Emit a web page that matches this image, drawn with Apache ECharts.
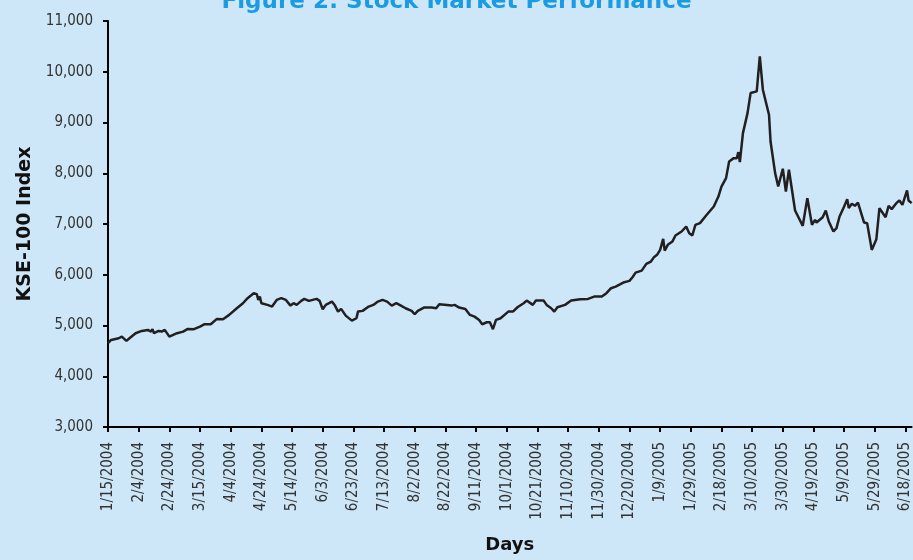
<!DOCTYPE html>
<html>
<head>
<meta charset="utf-8">
<title>Figure 2: Stock Market Performance</title>
<script src="https://cdn.jsdelivr.net/npm/echarts@6/dist/echarts.min.js"></script>
<style>
  html, body { margin: 0; padding: 0; background: #cde7f9; }
  #chart { width: 913px; height: 560px; }
</style>
</head>
<body>
<div id="chart"></div>
<script>
// days since 1/15/2004
var days = [0, 2, 7, 9, 12, 14, 18, 22, 26, 28, 29, 30, 33, 35, 37, 38, 40, 45, 49, 52,
  56, 60, 63, 67, 71, 75, 79, 84, 88, 91, 95, 97, 98, 99, 100, 104, 107, 110, 113, 116,
  119, 121, 123, 126, 128, 131, 136, 138, 140, 142, 146, 148, 150, 152, 155, 159, 162, 163, 166, 170,
  173, 176, 179, 182, 185, 188, 191, 194, 198, 200, 202, 206, 211, 214, 216, 221, 224, 226, 229, 233,
  236, 239, 242, 244, 247, 249, 251, 253, 256, 261, 264, 267, 271, 273, 277, 279, 284, 286, 289, 291,
  293, 298, 302, 308, 313, 317, 322, 325, 328, 331, 336, 340, 342, 344, 348, 351, 354, 356, 358, 360,
  362, 363, 365, 368, 370, 374, 377, 379, 381, 383, 386, 390, 395, 398, 400, 403, 405, 408, 410, 411,
  412, 414, 417, 419, 423, 425, 427, 431, 432, 435, 437, 440, 442, 444, 448, 453, 456, 459, 461, 462,
  466, 468, 470, 473, 475, 477, 480, 482, 483, 485, 487, 489, 490, 493, 495, 498, 501, 503, 507, 509,
  511, 514, 516, 518, 521, 522, 524];

var kse = [4650, 4716, 4749, 4780, 4696, 4749, 4848, 4893, 4913, 4880, 4927, 4848, 4893, 4880, 4913, 4880, 4780, 4848, 4880, 4933,
  4927, 4978, 5025, 5025, 5130, 5124, 5209, 5340, 5439, 5538, 5637, 5617, 5504, 5570, 5439, 5406, 5373, 5504, 5538, 5504,
  5392, 5439, 5406, 5485, 5524, 5485, 5524, 5485, 5321, 5406, 5471, 5392, 5274, 5327, 5195, 5096, 5143, 5274, 5288, 5373,
  5406, 5471, 5504, 5471, 5392, 5439, 5392, 5340, 5288, 5222, 5288, 5353, 5353, 5340, 5419, 5406, 5392, 5406, 5353, 5327,
  5209, 5175, 5110, 5025, 5064, 5064, 4927, 5110, 5143, 5274, 5274, 5360, 5439, 5491, 5406, 5491, 5491, 5406, 5340, 5274,
  5360, 5406, 5491, 5518, 5524, 5570, 5570, 5637, 5735, 5767, 5846, 5879, 5952, 6043, 6082, 6214, 6260, 6347, 6392, 6490,
  6707, 6477, 6589, 6654, 6773, 6852, 6950, 6819, 6773, 6983, 7017, 7167, 7344, 7541, 7738, 7904, 8232, 8298, 8298, 8416,
  8219, 8791, 9185, 9580, 9613, 10303, 9646, 9152, 8626, 8003, 7738, 8088, 7640, 8068, 7266, 6964, 7510, 6983, 7082, 7029,
  7134, 7266, 7049, 6852, 6918, 7147, 7344, 7490, 7313, 7398, 7358, 7423, 7398, 7029, 7016, 6490, 6701, 7313, 7134, 7358,
  7293, 7411, 7463, 7378, 7661, 7463, 7411];

var tickLabels = ["1/15/2004", "2/4/2004", "2/24/2004", "3/15/2004", "4/4/2004", "4/24/2004",
  "5/14/2004", "6/3/2004", "6/23/2004", "7/13/2004", "8/2/2004", "8/22/2004", "9/11/2004",
  "10/1/2004", "10/21/2004", "11/10/2004", "11/30/2004", "12/20/2004", "1/9/2005", "1/29/2005",
  "2/18/2005", "3/10/2005", "3/30/2005", "4/19/2005", "5/9/2005", "5/29/2005", "6/18/2005"];

var narrow = '"Liberation Sans Narrow", "DejaVu Sans Condensed", sans-serif';
var heavy = '"DejaVu Sans", sans-serif';
var ink = "#231f20";

var points = days.map(function (d, i) { return [d, kse[i]]; });

var chart = echarts.init(document.getElementById("chart"), null, { renderer: "canvas" });
chart.setOption({
  backgroundColor: "#cde7f9",
  animation: false,
  title: {
    text: "Figure 2: Stock Market Performance",
    left: "center",
    top: -9,
    padding: 0,
    textStyle: { color: "#1a9be2", fontFamily: heavy, fontWeight: "bold", fontSize: 23 }
  },
  grid: { left: 108, right: 1, top: 21, bottom: 133 },
  xAxis: {
    type: "value",
    min: 0,
    max: 524,
    interval: 20,
    name: "Days",
    nameLocation: "middle",
    nameGap: 109,
    nameTextStyle: { color: "#111", fontFamily: heavy, fontWeight: "bold", fontSize: 18 },
    axisLine: { show: true, onZero: false, lineStyle: { color: "#000", width: 2 } },
    axisTick: { show: true, length: 5, lineStyle: { color: "#000", width: 2 } },
    axisLabel: {
      rotate: 90,
      margin: 15,
      color: "#333",
      fontFamily: narrow,
      fontSize: 15,
      showMaxLabel: false,
      formatter: function (v) {
        return v % 20 === 0 ? (tickLabels[v / 20] || "") : "";
      }
    },
    splitLine: { show: false }
  },
  yAxis: {
    type: "value",
    min: 3000,
    max: 11000,
    interval: 1000,
    name: "KSE-100 Index",
    nameLocation: "middle",
    nameGap: 71,
    nameTextStyle: { color: "#111", fontFamily: heavy, fontWeight: "bold", fontSize: 19 },
    axisLine: { show: true, lineStyle: { color: "#000", width: 2 } },
    axisTick: { show: true, length: 5, lineStyle: { color: "#000", width: 2 } },
    axisLabel: {
      margin: 15,
      color: "#333",
      fontFamily: narrow,
      fontSize: 15,
      formatter: function (v) { return v.toLocaleString("en-US"); }
    },
    splitLine: { show: false }
  },
  series: [{
    type: "line",
    data: points,
    showSymbol: false,
    lineStyle: { color: ink, width: 2.5 },
    clip: true
  }]
});
</script>
</body>
</html>
